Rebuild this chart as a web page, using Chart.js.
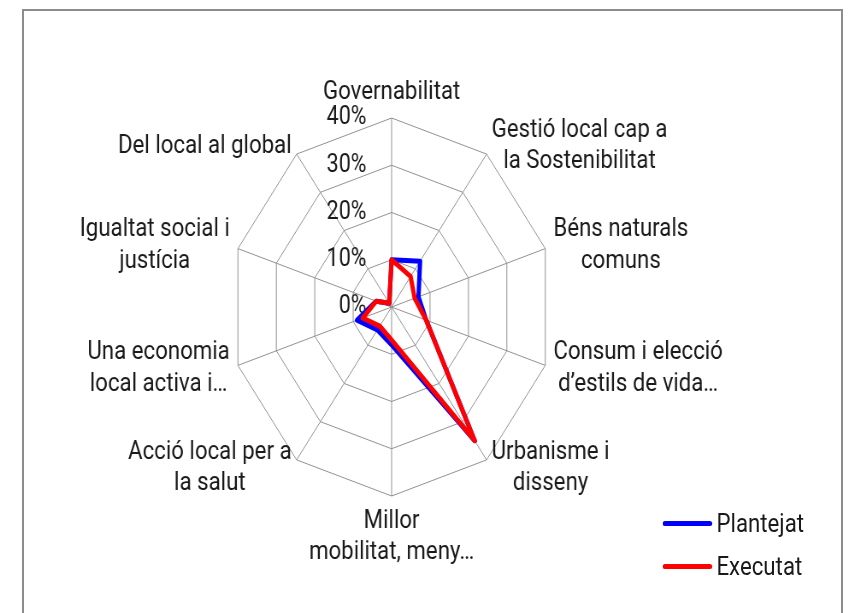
<!DOCTYPE html>
<html><head><meta charset="utf-8">
<script src="https://cdn.jsdelivr.net/npm/chart.js@4.4.1/dist/chart.umd.min.js"></script>
<style>
html,body{margin:0;padding:0;background:#fff;overflow:hidden;width:850px;height:613px}
#marco{position:absolute;left:22px;top:9px;width:821px;height:700px;border:2px solid #8c8c8c;box-sizing:border-box}
/* el gráfico original está comprimido en horizontal */
#lienzo{position:absolute;left:0;top:0;width:994px;height:613px;transform:scaleX(0.855);transform-origin:0 0}
#c{position:absolute;left:0;top:0}
#leyenda{position:absolute;left:775px;top:508px;font:26px Roboto,sans-serif;color:#1a1a1a}
#leyenda .it{display:flex;align-items:center;height:30px;margin-bottom:13px;white-space:nowrap}
#leyenda .ln{display:inline-block;width:58px;height:5px;border-radius:3px;margin-right:5px}
</style></head>
<body>
<div id="marco"></div>
<div id="lienzo"><canvas id="c" width="916" height="613"></canvas><div id="leyenda"></div></div>
<script>
// Datos
const categorias = [
  'Governabilitat',
  ['Gestió local cap a', 'la Sostenibilitat'],
  ['Béns naturals', 'comuns'],
  ['Consum i elecció', 'd’estils de vida…'],
  ['Urbanisme i', 'disseny'],
  ['Millor', 'mobilitat, meny…'],
  ['Acció local per a', 'la salut'],
  ['Una economia', 'local activa i…'],
  ['Igualtat social i', 'justícia'],
  'Del local al global'
];
const plantejat = [10, 12, 7, 9, 35, 8, 6, 9, 4, 1];
const executat  = [10, 8, 6, 9, 35, 7, 5, 7.5, 4, 1];
const escalaMax = 40, escalaPaso = 10;

const FONT = 'Roboto, sans-serif';
const LABEL_SIZE = 26, TICK_SIZE = 25, LABEL_GAP = 10;
const TICK_PAD = ' '.repeat(17); // empuja el texto del tick a la izquierda del eje

// Etiquetas de categoría al estilo Excel (centradas en el extremo del eje)
const etiquetasExcel = {
  id: 'etiquetasExcel',
  afterDraw(chart){
    const s = chart.scales.r, ctx = chart.ctx, lh = LABEL_SIZE*1.2;
    ctx.save();
    ctx.font = `${LABEL_SIZE}px ${FONT}`;
    ctx.fillStyle = '#1a1a1a';
    ctx.textBaseline = 'middle';
    ctx.textAlign = 'center';
    chart.data.labels.forEach((lab, i)=>{
      const lines = Array.isArray(lab) ? lab : [lab];
      const p = s.getPointPosition(i, s.drawingArea + LABEL_GAP);
      const a = s.getIndexAngle(i), sn = Math.sin(a), cs = Math.cos(a);
      const w = Math.max(...lines.map(t=>ctx.measureText(t).width));
      const h = lines.length*lh;
      let left, top;
      if (Math.abs(sn) < 0.01){ left = p.x - w/2; top = cs > 0 ? p.y - h : p.y; }
      else { left = sn > 0 ? p.x : p.x - w; top = p.y - h/2; }
      lines.forEach((t,k)=> ctx.fillText(t, left + w/2, top + lh*(k+0.5)));
    });
    ctx.restore();
  }
};

const chart = new Chart(document.getElementById('c').getContext('2d'), {
  type:'radar',
  data:{ labels: categorias, datasets:[
    {label:'Plantejat', data:plantejat, borderColor:'#0000ff', backgroundColor:'#0000ff', order:1},
    {label:'Executat',  data:executat,  borderColor:'#ff0000', backgroundColor:'#ff0000', order:0}
  ]},
  options:{
    responsive:false, animation:false, devicePixelRatio:1,
    layout:{ padding:{ top:103.5, bottom:102.5, left:0, right:0 } },
    elements:{
      line:{ borderWidth:5, fill:false, tension:0, borderJoinStyle:'round', borderCapStyle:'round' },
      point:{ radius:0, hoverRadius:0 }
    },
    plugins:{ legend:{ display:false }, tooltip:{ enabled:false } },
    scales:{ r:{
      min:0, max:escalaMax,
      grid:{ color:'#909090', lineWidth:1 },
      angleLines:{ color:'#909090', lineWidth:1 },
      pointLabels:{ display:false },
      afterBuildTicks:(sc)=>{ sc.ticks.unshift({value:0}); }, // el primer tick no se dibuja
      ticks:{
        stepSize:escalaPaso, showLabelBackdrop:false, color:'#1a1a1a',
        font:{ family:FONT, size:TICK_SIZE },
        callback:(v, i)=> i===0 ? '' : (v<10 ? '\u2007' : '') + v + '%' + TICK_PAD
      }
    }}
  },
  plugins:[etiquetasExcel]
});

// Leyenda HTML
document.getElementById('leyenda').innerHTML = chart.data.datasets.map(d=>
  `<div class="it"><span class="ln" style="background:${d.borderColor}"></span>${d.label}</div>`
).join('');
</script>
</body></html>
